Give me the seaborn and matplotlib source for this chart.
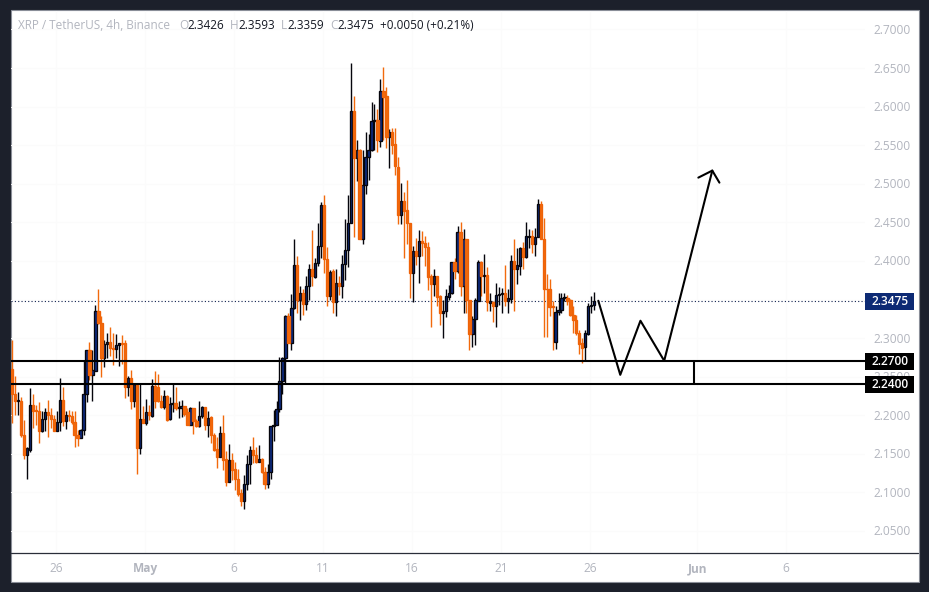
import numpy as np
import pandas as pd
import seaborn as sns
import matplotlib
matplotlib.use("Agg")
import matplotlib.pyplot as plt
from matplotlib.lines import Line2D
from matplotlib.patches import Rectangle
from matplotlib.transforms import ScaledTranslation

opens = [2.260,2.227,2.218,2.219,2.175,2.149,2.155,2.213,2.206,2.205,2.180,2.195,2.204,2.200,2.195,2.180,2.191,2.220,2.193,2.200,
2.199,2.191,2.175,2.171,2.181,2.227,2.284,2.252,2.258,2.335,2.319,2.274,2.292,2.295,2.287,2.286,2.291,2.293,2.293,2.237,
2.248,2.219,2.239,2.157,2.195,2.190,2.204,2.199,2.238,2.236,2.218,2.211,2.225,2.195,2.215,2.216,2.209,2.209,2.212,2.204,
2.188,2.210,2.193,2.186,2.199,2.211,2.188,2.198,2.175,2.156,2.146,2.177,2.143,2.114,2.142,2.130,2.118,2.099,2.089,2.111,
2.137,2.155,2.148,2.140,2.143,2.126,2.111,2.126,2.186,2.188,2.208,2.244,2.274,2.328,2.294,2.339,2.395,2.349,2.359,2.344,
2.368,2.390,2.379,2.397,2.419,2.472,2.402,2.354,2.387,2.347,2.371,2.367,2.396,2.414,2.449,2.594,2.533,2.544,2.429,2.499,
2.535,2.544,2.581,2.583,2.556,2.620,2.614,2.561,2.567,2.551,2.522,2.460,2.478,2.466,2.449,2.385,2.413,2.407,2.426,2.423,
2.418,2.380,2.370,2.381,2.354,2.332,2.335,2.353,2.358,2.398,2.387,2.438,2.368,2.429,2.349,2.305,2.325,2.348,2.399,2.380,
2.382,2.346,2.347,2.342,2.356,2.357,2.359,2.348,2.351,2.400,2.389,2.394,2.417,2.405,2.431,2.432,2.422,2.431,2.474,2.428,
2.364,2.364,2.341,2.295,2.334,2.336,2.352,2.352,2.349,2.330,2.323,2.307,2.293,2.288,2.305,2.342,2.3426]
highs = [2.298,2.251,2.230,2.224,2.194,2.159,2.235,2.228,2.213,2.217,2.205,2.209,2.220,2.209,2.200,2.205,2.248,2.236,2.205,2.207,
2.205,2.206,2.181,2.182,2.270,2.285,2.295,2.285,2.343,2.364,2.329,2.297,2.306,2.315,2.306,2.305,2.294,2.304,2.297,2.251,
2.259,2.242,2.240,2.241,2.212,2.221,2.213,2.247,2.258,2.254,2.226,2.233,2.226,2.224,2.240,2.236,2.219,2.220,2.212,2.209,
2.211,2.210,2.195,2.219,2.212,2.211,2.206,2.199,2.177,2.172,2.186,2.200,2.154,2.163,2.151,2.140,2.130,2.105,2.123,2.149,
2.160,2.172,2.159,2.162,2.144,2.133,2.137,2.186,2.207,2.219,2.275,2.275,2.330,2.332,2.357,2.428,2.407,2.368,2.363,2.381,
2.396,2.440,2.404,2.449,2.477,2.485,2.418,2.388,2.389,2.389,2.381,2.408,2.454,2.486,2.656,2.614,2.557,2.545,2.544,2.567,
2.564,2.606,2.603,2.597,2.636,2.652,2.626,2.571,2.572,2.572,2.535,2.501,2.489,2.505,2.449,2.419,2.430,2.440,2.439,2.432,
2.424,2.383,2.390,2.381,2.356,2.350,2.363,2.369,2.399,2.404,2.445,2.450,2.441,2.429,2.350,2.328,2.352,2.401,2.400,2.409,
2.392,2.358,2.348,2.371,2.366,2.365,2.395,2.363,2.408,2.428,2.417,2.418,2.424,2.451,2.441,2.440,2.443,2.480,2.478,2.456,
2.383,2.376,2.348,2.341,2.358,2.359,2.358,2.356,2.351,2.341,2.330,2.311,2.300,2.311,2.345,2.355,2.3593]
lows = [2.190,2.200,2.200,2.172,2.143,2.117,2.152,2.183,2.187,2.164,2.178,2.179,2.172,2.183,2.179,2.180,2.180,2.186,2.182,2.192,
2.189,2.159,2.160,2.170,2.174,2.217,2.246,2.219,2.257,2.318,2.250,2.262,2.274,2.277,2.265,2.274,2.264,2.267,2.222,2.225,
2.208,2.211,2.124,2.150,2.190,2.188,2.194,2.198,2.209,2.217,2.209,2.208,2.193,2.194,2.204,2.207,2.196,2.198,2.199,2.187,
2.187,2.176,2.185,2.185,2.197,2.181,2.172,2.164,2.154,2.132,2.146,2.129,2.108,2.114,2.116,2.103,2.095,2.082,2.079,2.103,
2.111,2.138,2.138,2.139,2.125,2.105,2.106,2.117,2.167,2.187,2.204,2.228,2.242,2.293,2.285,2.338,2.332,2.323,2.330,2.337,
2.350,2.368,2.378,2.393,2.404,2.384,2.342,2.349,2.332,2.329,2.356,2.352,2.375,2.392,2.449,2.431,2.503,2.428,2.422,2.487,
2.505,2.543,2.544,2.541,2.548,2.557,2.547,2.520,2.538,2.512,2.448,2.448,2.404,2.422,2.352,2.347,2.395,2.371,2.407,2.394,
2.362,2.314,2.354,2.341,2.317,2.300,2.327,2.350,2.357,2.376,2.384,2.354,2.333,2.332,2.284,2.288,2.291,2.348,2.354,2.358,
2.335,2.335,2.321,2.315,2.343,2.332,2.342,2.332,2.345,2.335,2.370,2.382,2.389,2.404,2.417,2.410,2.406,2.431,2.428,2.301,
2.301,2.328,2.284,2.286,2.330,2.332,2.348,2.343,2.328,2.307,2.304,2.280,2.268,2.272,2.304,2.332,2.3359]
closes = [2.227,2.218,2.219,2.175,2.149,2.157,2.213,2.205,2.205,2.180,2.195,2.204,2.200,2.195,2.180,2.191,2.220,2.193,2.200,2.199,
2.191,2.175,2.171,2.181,2.227,2.284,2.252,2.259,2.335,2.319,2.274,2.292,2.295,2.287,2.286,2.291,2.293,2.292,2.237,2.248,
2.219,2.240,2.158,2.195,2.190,2.204,2.200,2.238,2.218,2.218,2.211,2.225,2.194,2.215,2.216,2.209,2.210,2.212,2.202,2.188,
2.210,2.193,2.186,2.199,2.211,2.188,2.196,2.175,2.155,2.146,2.177,2.142,2.114,2.142,2.129,2.118,2.098,2.089,2.111,2.137,
2.155,2.148,2.140,2.143,2.126,2.111,2.126,2.186,2.188,2.208,2.244,2.274,2.328,2.294,2.339,2.395,2.349,2.359,2.344,2.368,
2.390,2.380,2.397,2.420,2.472,2.402,2.354,2.386,2.347,2.371,2.367,2.396,2.414,2.449,2.594,2.533,2.544,2.429,2.499,2.535,
2.544,2.581,2.583,2.557,2.620,2.613,2.561,2.567,2.550,2.523,2.460,2.478,2.465,2.449,2.385,2.413,2.407,2.426,2.423,2.418,
2.379,2.370,2.381,2.353,2.332,2.335,2.354,2.359,2.398,2.387,2.438,2.368,2.429,2.349,2.305,2.325,2.349,2.399,2.380,2.382,
2.347,2.348,2.342,2.356,2.357,2.358,2.348,2.352,2.400,2.389,2.395,2.417,2.405,2.432,2.432,2.422,2.431,2.474,2.428,2.364,
2.363,2.340,2.340,2.334,2.336,2.352,2.353,2.348,2.330,2.323,2.307,2.292,2.287,2.306,2.342,2.343,2.3475]

zone_levels = [2.27, 2.24]
zone_labels = ["2.2700", "2.2400"]
last_price = 2.3475
price_ticks = [2.05, 2.10, 2.15, 2.20, 2.25, 2.30, 2.35, 2.40, 2.45, 2.50, 2.55, 2.60, 2.65, 2.70]
date_ticks = [14.7, 44.7, 74.7, 104.7, 134.7, 164.7, 194.7, 230.7, 260.7]
date_labels = ["26", "May", "6", "11", "16", "21", "26", "Jun", "6"]
path_x = [197.4, 204.8, 211.6, 219.6, 235.8]
path_y = [2.3484, 2.2524, 2.3225, 2.2706, 2.5171]
head_x = [231.1, 235.8, 238.2]
head_y = [2.508, 2.5171, 2.5015]

W, H = 929, 592
UP_EDGE, UP_FILL, DOWN = "#05050c", "#0d2a80", "#f26a0c"
GREY = "#b2b5be"
FONT = "Open Sans"

sns.set_theme(style="white", rc={"font.family": FONT})
fig = plt.figure(figsize=(9.295, 5.925), dpi=100, facecolor="#1c202b")
fig.add_artist(Rectangle((10.5 / W, 1 - 582 / H), 908.5 / W, 572 / H, transform=fig.transFigure,
                         facecolor="white", edgecolor="#8a8e98", linewidth=0.8, zorder=-1))
ax = fig.add_axes([11 / W, 1 - 553 / H, 854 / W, 542 / H], facecolor="none")

idx = np.arange(len(opens))
o, h, l, c = map(np.array, (opens, highs, lows, closes))
up = c >= o
frame = pd.DataFrame({"i": np.r_[idx, idx], "price": np.r_[l, h],
                      "side": np.r_[np.where(up, "up", "down"), np.where(up, "up", "down")]})
ax.grid(True, color="#fbfbfb", linewidth=0.8)
sns.lineplot(data=frame, x="i", y="price", hue="side", units="i", estimator=None,
             palette={"up": UP_EDGE, "down": DOWN}, linewidth=1.0, legend=False, ax=ax,
             zorder=2, solid_capstyle="butt")
bottoms = np.minimum(o, c)
heights = np.maximum(np.abs(c - o), 0.0012)
ax.bar(idx[up], heights[up], bottom=bottoms[up], width=0.78, color=UP_FILL,
       edgecolor=UP_EDGE, linewidth=0.95, zorder=3)
ax.bar(idx[~up], heights[~up], bottom=bottoms[~up], width=0.78, color=DOWN,
       edgecolor="#ee6208", linewidth=0.95, zorder=3)

ax.axhline(last_price, color="#10204f", linewidth=0.8, linestyle=(0, (1, 2)), zorder=1)
for lev in zone_levels:
    ax.axhline(lev, color="black", linewidth=1.5, zorder=4)
sns.lineplot(x=path_x, y=path_y, sort=False, estimator=None, color="black", linewidth=1.5, ax=ax, zorder=5)
sns.lineplot(x=head_x, y=head_y, sort=False, estimator=None, color="black", linewidth=1.5, ax=ax, zorder=5)
ax.plot([229.8, 229.8], zone_levels, color="black", linewidth=1.5, zorder=5)

ax.set_xlim(-0.44, 287.4)
ax.set_ylim(2.0215, 2.7246)
ax.set_xticks(date_ticks, date_labels)
ax.set_yticks(price_ticks, ["" if p == 2.35 else f"{p:.4f}" for p in price_ticks])
ax.yaxis.tick_right()
ax.tick_params(axis="both", length=0, colors=GREY, labelsize=8.6)
ax.tick_params(axis="y", pad=5.8)
ax.tick_params(axis="x", pad=6.3)
ax.set_xlabel("")
ax.set_ylabel("")
for side, sp in ax.spines.items():
    sp.set_visible(False)
for lab in ax.get_xticklabels():
    if lab.get_text() in ("May", "Jun"):
        lab.set_fontweight("bold")
shift_up = ScaledTranslation(0, 1 / 100, fig.dpi_scale_trans)
for lab in ax.get_yticklabels():
    lab.set_transform(lab.get_transform() + shift_up)
fig.add_artist(Line2D([11 / W, 918 / W], [1 - 553.5 / H] * 2, color="#2a2e39", linewidth=0.9))

trans = ax.get_yaxis_transform()
boxes = [(last_price, "2.3475", "#0d2a74")] + [(v, t, "black") for v, t in zip(zone_levels, zone_labels)]
half_box = 8.5 * (2.7246 - 2.0215) / 542
for val, txt, col in boxes:
    ax.add_patch(Rectangle((1, val - half_box), 49 / 854, 2 * half_box, transform=trans,
                           facecolor=col, edgecolor="none", clip_on=False, zorder=6))
    ax.text(1 + 24.5 / 854, val + 0.0008, txt, transform=trans, ha="center", va="center", clip_on=False,
            color="white", fontsize=8.6, fontweight="semibold", zorder=7)

header = [(18, "XRP / TetherUS, 4h, Binance", GREY), (179, "O", GREY), (187, "2.3426", "#131722"),
          (230, "H", GREY), (238, "2.3593", "#131722"), (281, "L", GREY), (287, "2.3359", "#131722"),
          (330, "C", GREY), (337, "2.3475", "#131722"), (380, "+0.0050 (+0.21%)", "#131722")]
for px, txt, col in header:
    fig.text(px / W, 1 - 25.5 / H, txt, color=col, fontsize=8.5, ha="left", va="center")

fig.savefig("out.png", dpi=100, facecolor=fig.get_facecolor())
